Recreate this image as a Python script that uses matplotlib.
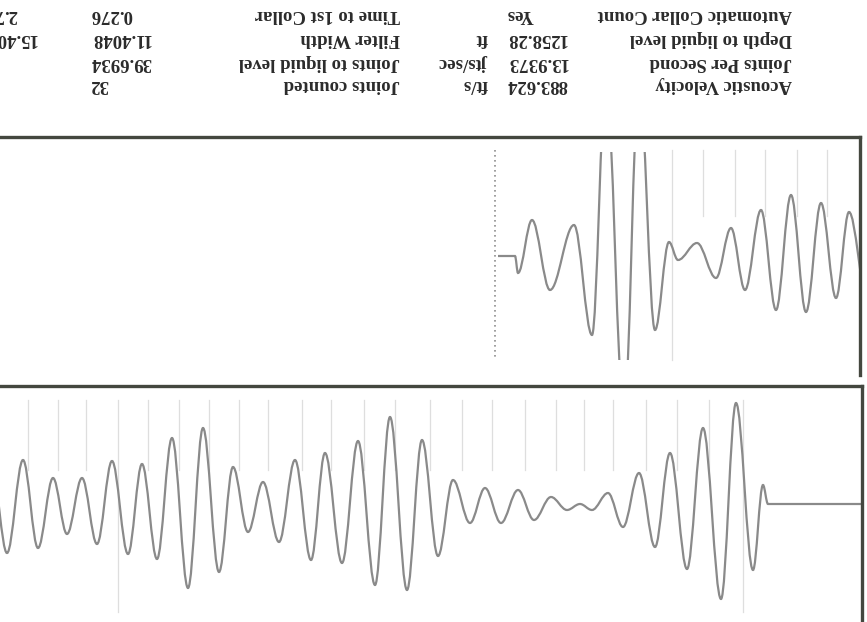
import numpy as np
import matplotlib.pyplot as plt
from matplotlib.path import Path
from matplotlib.patches import PathPatch, Rectangle

# the scan is upside down: everything below is in reading orientation
# (time grows to the left of the picture, amplitude grows downwards)

# full record (lower panel of the picture)
t_full = [0, 94, 99, 109, 126, 141, 159, 175, 192, 207, 223, 239, 254, 270, 282, 295,
          311, 328, 344, 361, 377, 392, 409, 424, 440, 455, 472, 487, 504, 520, 537, 551,
          567, 583, 599, 614, 629, 643, 659, 674, 690, 705, 720, 734, 750, 765, 780, 795,
          809, 824, 839, 855, 870]
a_full = [0, 0, -19, 66, -101, 95, -76, 65, -51, 43, -31, 23, -11, 6, 0, 6,
          -7, 16, -14, 19, -16, 19, -24, 52, -64, 86, -87, 81, -63, 59, -51, 56,
          -44, 38, -22, 28, -37, 68, -76, 84, -66, 55, -40, 50, -43, 40, -26, 30,
          -26, 44, -44, 49, -34]

# zoomed record (upper panel of the picture)
t_zoom = [-7, 11, 24, 39, 54, 69, 84, 99, 115, 129, 144, 163, 182, 191, 205, 221,
          236, 254, 268, 286, 310, 328, 342, 345, 362]
a_zoom = [40, -44, 42, -53, 56, -61, 54, -46, 34, -28, 22, -13, 4, -14, 74, -175,
          160, -175, 79, -31, 34, -36, 17, 0, 0]

# collar marks
collari_full = [834, 804, 776, 744, 714, 683, 653, 623, 594, 560, 531, 498, 467, 432,
                400, 370, 337, 306, 278, 249, 216, 185, 153, 119]
collari_full_lunghi = [744, 119]
collari_zoom = [188, 157, 125, 95, 63, 33]
collari_zoom_lunghi = [188]
livello_liquido = 365

# header
etichette_1 = ['Acoustic Velocity', 'Joints Per Second', 'Depth to liquid level', 'Automatic Collar Count']
valori_1 = ['883.624', '13.9373', '1258.28', 'Yes']
unita_1 = ['ft/s', 'jts/sec', 'ft', '']
etichette_2 = ['Joints counted', 'Joints to liquid level', 'Filter Width', 'Time to 1st Collar']
valori_2 = ['32', '39.6934', '11.4048', '0.276']
valori_3 = ['', '', '15.4048', '2.760']

W, H = 867, 622
col_traccia = '#8a8a8a'
col_bordo = '#44473f'
col_testo = '#2b2b2b'


def curva(t, a, k=0.36):
    # cubic segments with flat tangents at every peak / trough
    verts = [(t[0], a[0])]
    codes = [Path.MOVETO]
    for i in range(1, len(t)):
        dt = t[i] - t[i - 1]
        verts += [(t[i - 1] + k * dt, a[i - 1]), (t[i] - k * dt, a[i]), (t[i], a[i])]
        codes += [Path.CURVE4] * 3
    return Path(verts, codes)


def rect_px(x0, y0, x1, y1):
    return [x0 / W, 1 - y1 / H, (x1 - x0) / W, (y1 - y0) / H]


def prepara(ax, xmax, ymax):
    ax.set_xlim(xmax, 0)
    ax.set_ylim(ymax, -ymax)
    ax.set_xticks([])
    ax.set_yticks([])
    for s in ['bottom', 'left']:
        ax.spines[s].set_visible(False)
    for s in ['top', 'right']:
        ax.spines[s].set_linewidth(2.4)
        ax.spines[s].set_color(col_bordo)


fig = plt.figure(figsize=(W / 100, H / 100), dpi=100)
fig.patch.set_facecolor('white')

# upper panel
ax_z = fig.add_axes(rect_px(-5, 137, 860, 375))
prepara(ax_z, 865, 119)
for c in collari_zoom:
    fine = 104 if c in collari_zoom_lunghi else -40
    ax_z.plot([c, c], [-106, fine], color='#dedede', lw=0.9, zorder=1)
ax_z.plot([livello_liquido, livello_liquido], [-106, 104], color='#8f8f8f', lw=1.2,
          ls=(0, (1, 2)), zorder=1)
pz = PathPatch(curva(t_zoom, a_zoom), facecolor='none', edgecolor=col_traccia, lw=1.6, zorder=2)
ax_z.add_patch(pz)
# the big swings are cut a little inside the frame, as on the scan
pz.set_clip_path(Rectangle((0, -104), 865, 208, transform=ax_z.transData))

# lower panel
ax_f = fig.add_axes(rect_px(-5, 386, 862, 622))
prepara(ax_f, 867, 118)
for c in collari_full:
    fine = 108 if c in collari_full_lunghi else -34
    ax_f.plot([c, c], [-104, fine], color='#dedede', lw=0.9, zorder=1)
pf = PathPatch(curva(t_full, a_full), facecolor='none', edgecolor=col_traccia, lw=1.6, zorder=2)
ax_f.add_patch(pf)

# header text, rotated like the scan
righe_y = [85, 62, 38, 15]
font = dict(rotation=180, va='center', fontsize=13.5, fontweight='bold',
            family='Liberation Serif', color=col_testo)
for i, y in enumerate(righe_y):
    yy = 1 - y / H
    fig.text(792 / W, yy, etichette_1[i], ha='right', **font)
    fig.text(506 / W, yy, valori_1[i], ha='left', **font)
    if unita_1[i]:
        fig.text(488 / W, yy, unita_1[i], ha='right', **font)
    fig.text(400 / W, yy, etichette_2[i], ha='right', **font)
    fig.text(90 / W, yy, valori_2[i], ha='left', **font)
    if valori_3[i]:
        # this column runs off the left edge in the scan as well
        fig.text(-25 / W, yy, valori_3[i], ha='left', **font)

plt.savefig('out.png', dpi=100, facecolor='white')
plt.close()
